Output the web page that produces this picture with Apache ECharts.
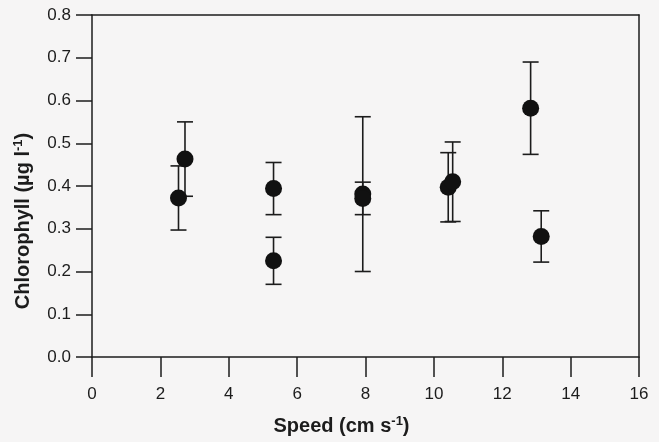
<!DOCTYPE html>
<html>
<head>
<meta charset="utf-8">
<script src="https://cdn.jsdelivr.net/npm/echarts@6/dist/echarts.min.js"></script>
<style>
  html, body { margin: 0; padding: 0; background: #f6f5f5; }
  #chart { width: 659px; height: 442px; }
</style>
</head>
<body>
<div id="chart"></div>
<script>
  // speed (cm s-1), chlorophyll mean and +/- error
  const speed = [2.53, 2.72, 5.31, 5.31, 7.92, 7.92, 10.42, 10.55, 12.83, 13.14];
  const chl = [0.372, 0.463, 0.394, 0.225, 0.381, 0.371, 0.397, 0.41, 0.582, 0.282];
  const err = [0.075, 0.087, 0.061, 0.055, 0.181, 0.038, 0.081, 0.093, 0.108, 0.06];
  const xTicks = [0, 16, 2];
  const yTicks = [0, 0.8, 0.1];

  const ink = '#1c1c1c';
  const tickFont = '"Liberation Sans Narrow", "Liberation Sans", Arial, sans-serif';
  const titleFont = '"Liberation Sans", Arial, sans-serif';

  const points = speed.map((s, i) => [s, chl[i]]);
  const bars = speed.map((s, i) => [s, chl[i] - err[i], chl[i] + err[i]]);

  const supRich = {
    sup: { fontSize: 13, fontWeight: 'bold', fontFamily: titleFont, color: ink, padding: [0, 0, 9, 0], verticalAlign: 'top' }
  };

  const myChart = echarts.init(document.getElementById('chart'));
  const option = {
    backgroundColor: '#f6f5f5',
    animation: false,
    grid: { left: 92, right: 20, top: 15, bottom: 85 },
    xAxis: [{
      type: 'value',
      min: xTicks[0], max: xTicks[1], interval: xTicks[2],
      splitLine: { show: false },
      axisLine: { show: true, onZero: false, lineStyle: { color: ink, width: 1.5 } },
      axisTick: { show: true, inside: false, length: 20, lineStyle: { color: ink, width: 1.5 } },
      axisLabel: { margin: 29, fontSize: 17, color: ink, fontFamily: tickFont },
      name: 'Speed (cm s{sup|-1})',
      nameLocation: 'middle',
      nameGap: 58,
      nameTextStyle: { fontSize: 20, fontWeight: 'bold', color: ink, fontFamily: titleFont, padding: [0, 48, 0, 0], rich: supRich }
    }, {
      // top frame line
      type: 'value', position: 'top',
      min: xTicks[0], max: xTicks[1], interval: xTicks[2],
      splitLine: { show: false },
      axisLine: { show: true, onZero: false, lineStyle: { color: ink, width: 1.5 } },
      axisTick: { show: false }, axisLabel: { show: false }
    }],
    yAxis: [{
      type: 'value',
      min: yTicks[0], max: yTicks[1], interval: yTicks[2],
      splitLine: { show: false },
      axisLine: { show: true, onZero: false, lineStyle: { color: ink, width: 1.5 } },
      axisTick: { show: true, inside: false, length: 16, lineStyle: { color: ink, width: 1.5 } },
      axisLabel: { margin: 21, fontSize: 17, color: ink, fontFamily: tickFont, formatter: v => v.toFixed(1) },
      name: 'Chlorophyll (µg l{sup|-1})',
      nameLocation: 'middle',
      nameGap: 58,
      nameRotate: 90,
      nameTextStyle: { fontSize: 20, fontWeight: 'bold', color: ink, fontFamily: titleFont, padding: [0, 70, 0, 0], rich: supRich }
    }, {
      // right frame line
      type: 'value', position: 'right',
      min: yTicks[0], max: yTicks[1], interval: yTicks[2],
      splitLine: { show: false },
      axisLine: { show: true, onZero: false, lineStyle: { color: ink, width: 1.5 } },
      axisTick: { show: false }, axisLabel: { show: false }
    }],
    series: [{
      type: 'custom',
      data: bars,
      renderItem: (params, api) => {
        const x = api.value(0);
        const lo = api.coord([x, api.value(1)]);
        const hi = api.coord([x, api.value(2)]);
        const half = 8;
        const style = { stroke: ink, lineWidth: 1.6 };
        return {
          type: 'group',
          children: [
            { type: 'line', shape: { x1: lo[0], y1: lo[1], x2: hi[0], y2: hi[1] }, style },
            { type: 'line', shape: { x1: lo[0] - half, y1: lo[1], x2: lo[0] + half, y2: lo[1] }, style },
            { type: 'line', shape: { x1: hi[0] - half, y1: hi[1], x2: hi[0] + half, y2: hi[1] }, style }
          ]
        };
      },
      z: 2
    }, {
      type: 'scatter',
      data: points,
      symbol: 'circle',
      symbolSize: 17,
      itemStyle: { color: '#111111', opacity: 1 },
      z: 3
    }]
  };
  myChart.setOption(option);
</script>
</body>
</html>
